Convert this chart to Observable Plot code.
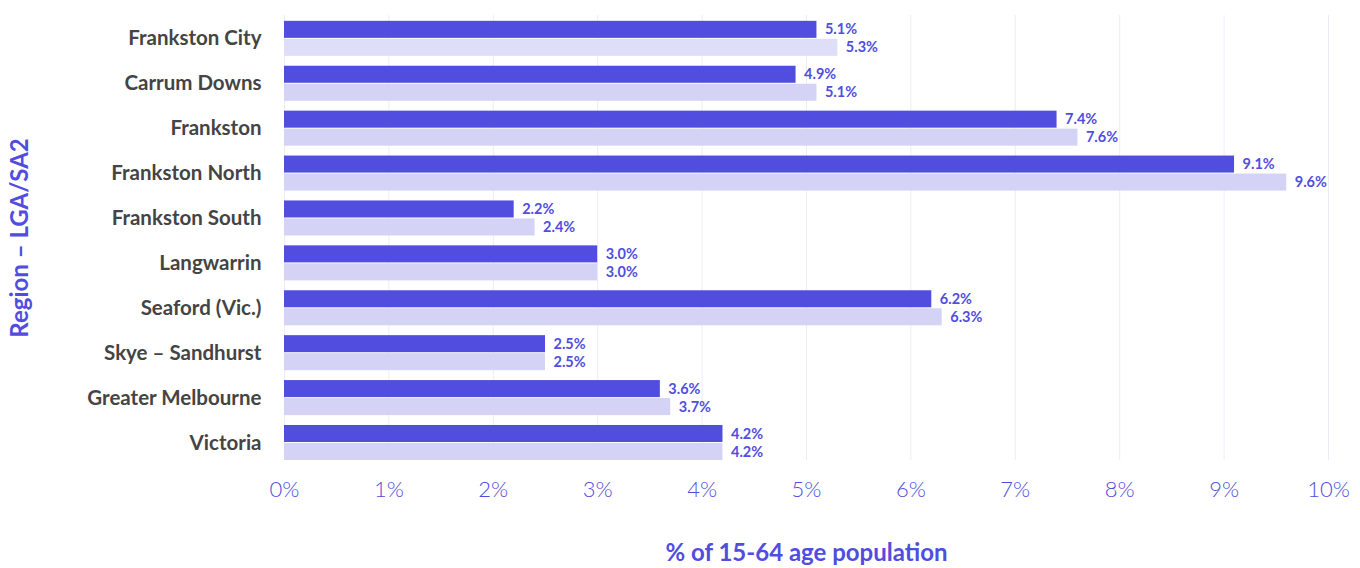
<!DOCTYPE html>
<html>
<head>
<meta charset="utf-8">
<script src="https://cdn.jsdelivr.net/npm/d3@7"></script>
<script src="https://cdn.jsdelivr.net/npm/@observablehq/plot@0.6"></script>
<style>
  html, body { margin: 0; padding: 0; background: #fff; }
  #chart { width: 1360px; height: 568px; }
</style>
</head>
<body>
<div id="chart"></div>
<script>
const regions = ["Frankston City", "Carrum Downs", "Frankston", "Frankston North", "Frankston South", "Langwarrin", "Seaford (Vic.)", "Skye – Sandhurst", "Greater Melbourne", "Victoria"];
const seriesDark = [5.1, 4.9, 7.4, 9.1, 2.2, 3.0, 6.2, 2.5, 3.6, 4.2];
const seriesLight = [5.3, 5.1, 7.6, 9.6, 2.4, 3.0, 6.3, 2.5, 3.7, 4.2];
const xTicks = [0, 1, 2, 3, 4, 5, 6, 7, 8, 9, 10];
const xLabel = "% of 15-64 age population";
const yLabel = "Region – LGA/SA2";

const rows = regions.map((r, i) => ({region: r, a: seriesDark[i], b: seriesLight[i]}));

const INDIGO = "#514ddf";
const FONT = "Lato, 'Noto Sans', sans-serif";

const chart = Plot.plot({
  width: 1360,
  height: 568,
  marginTop: 15,
  marginRight: 32,
  marginBottom: 108,
  marginLeft: 284,
  style: {fontFamily: FONT, background: "#fff", overflow: "visible"},
  x: {domain: [0, 10], axis: null},
  y: {domain: regions, paddingInner: 0.22, paddingOuter: 0.065, align: 1, round: false, axis: null},
  marks: [
    Plot.gridX(xTicks, {stroke: "#ececf9", strokeOpacity: 1, strokeWidth: 1}),
    Plot.barX(rows, {x: "a", y: "region", fill: INDIGO, insetBottom: 18}),
    Plot.barX(rows, {x: "b", y: "region", fill: d => d.region === regions[0] ? "#dfdef8" : "#d4d3f5", insetTop: 18}),
    Plot.text(rows, {x: "a", y: "region", text: d => d.a.toFixed(1) + "%", dx: 8, dy: -9, textAnchor: "start", fill: INDIGO, fontSize: 14.5, fontWeight: 700}),
    Plot.text(rows, {x: "b", y: "region", text: d => d.b.toFixed(1) + "%", dx: 8, dy: 9, textAnchor: "start", fill: INDIGO, fontSize: 14.5, fontWeight: 700}),
    Plot.axisY({tickSize: 0, tickPadding: 23, label: null, fill: "#444", fontSize: 20.5, fontWeight: 700}),
    Plot.axisX(xTicks, {tickSize: 0, tickPadding: 21, label: null, tickFormat: d => d + "%", fill: INDIGO, fontSize: 22, fontWeight: 300}),
    Plot.text([xLabel], {frameAnchor: "bottom", dy: 100, textAnchor: "middle", fill: INDIGO, fontSize: 24, fontWeight: 700}),
    Plot.text([yLabel], {frameAnchor: "left", dx: -264, rotate: -90, textAnchor: "middle", fill: INDIGO, fontSize: 24, fontWeight: 700})
  ]
});
document.getElementById("chart").appendChild(chart);
</script>
</body>
</html>
